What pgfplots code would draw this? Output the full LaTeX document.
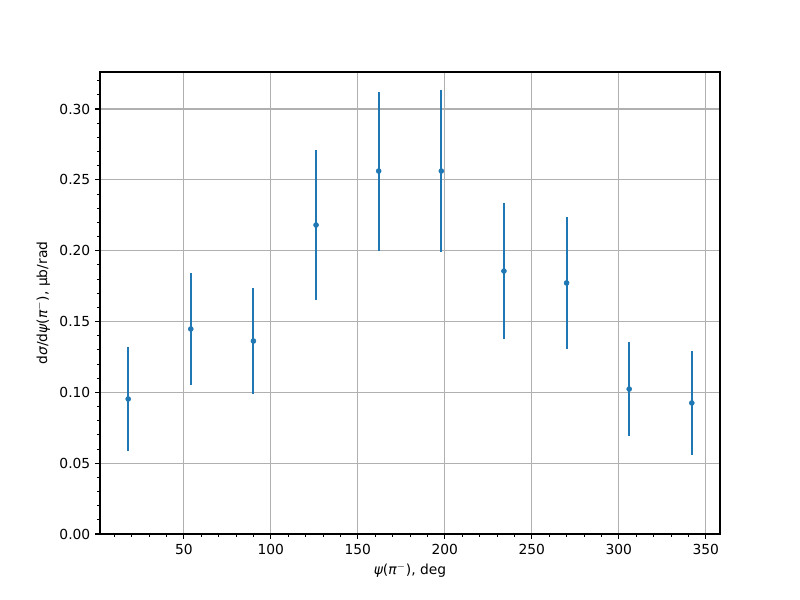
\documentclass[border=0pt]{standalone}
\usepackage{fontspec}
\setmainfont{DejaVu Sans}
\usepackage{pgfplots}
\pgfplotsset{compat=1.18}
\definecolor{mplblue}{HTML}{1F77B4}
\definecolor{gridgray}{HTML}{B0B0B0}
\begin{document}
\begin{tikzpicture}
\begin{axis}[
  scale only axis,
  width=6.2in, height=4.62in,
  xmin=1.8, xmax=358.2,
  ymin=0, ymax=0.3261,
  xtick={50,100,150,200,250,300,350},
  minor xtick={10,20,30,40,60,70,80,90,110,120,130,140,160,170,180,190,210,220,230,240,260,270,280,290,310,320,330,340},
  ytick={0,0.05,0.1,0.15,0.2,0.25,0.3},
  minor ytick={0.01,0.02,0.03,0.04,0.06,0.07,0.08,0.09,0.11,0.12,0.13,0.14,0.16,0.17,0.18,0.19,0.21,0.22,0.23,0.24,0.26,0.27,0.28,0.29,0.31,0.32},
  yticklabel style={/pgf/number format/.cd, fixed, fixed zerofill, precision=2},
  /pgf/number format/assume math mode=true,
  tick align=outside,
  major tick length=3.5pt,
  minor tick length=2pt,
  major tick style={black, line width=0.8pt},
  minor tick style={black, line width=0.6pt},
  xtick pos=bottom, ytick pos=left,
  grid=major,
  major grid style={gridgray, line width=0.8pt},
  axis line style={line width=0.8pt},
  tick label style={font=\fontsize{10}{12}\selectfont},
  label style={font=\fontsize{10}{12}\selectfont},
  xlabel={{\itshape ψ}(\itshape π\upshape$^{-}$), deg},
  ylabel={d{\itshape σ}/d{\itshape ψ}(\itshape π\upshape$^{-}$), µb/rad},
]
\addplot[only marks, mark=*, mark size=1.8pt, color=mplblue,
  error bars/.cd, y dir=both, y explicit, error mark=none,
  error bar style={line width=1.5pt, mplblue}]
  table[x=x, y=y, y error=e] {
x y e
18 0.0953 0.0365
54 0.1447 0.0395
90 0.1362 0.0374
126 0.2181 0.0530
162 0.2562 0.0561
198 0.2562 0.0572
234 0.1856 0.0480
270 0.1772 0.0463
306 0.1023 0.0332
342 0.0925 0.0364
};
\end{axis}
\path[use as bounding box] (-1in,-0.66in) rectangle (7in,5.34in);
\end{tikzpicture}
\end{document}
